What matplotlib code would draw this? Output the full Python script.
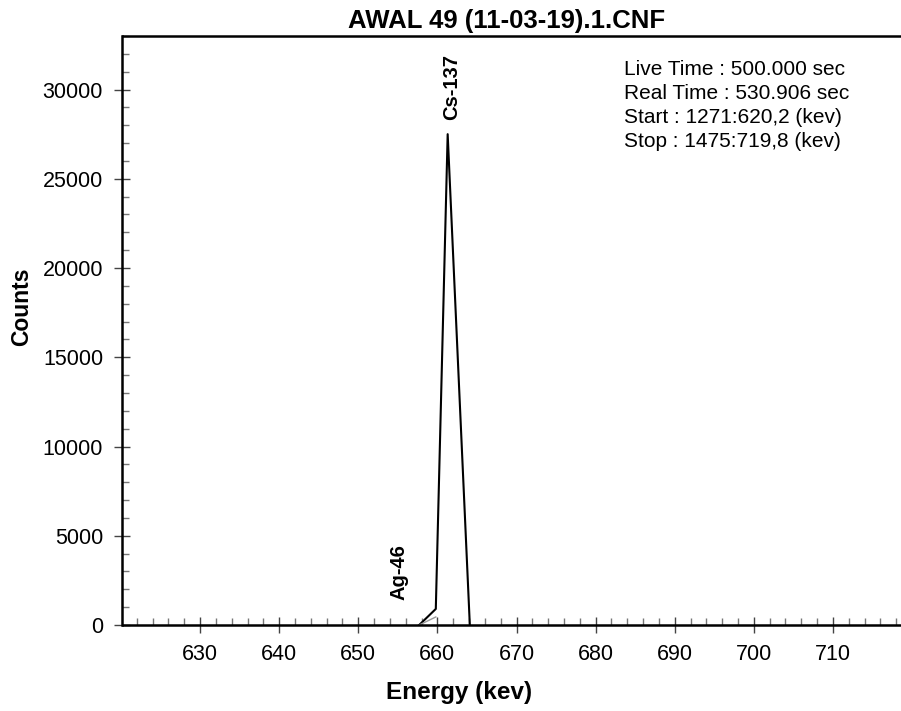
import matplotlib
matplotlib.use("Agg")
import matplotlib.pyplot as plt
from matplotlib.ticker import MultipleLocator

plt.rcParams['font.family'] = ['Liberation Sans', 'DejaVu Sans']

# spectrum around the Cs-137 line
energy = [657.7, 659.8, 661.3, 664.1]
counts = [0, 900, 27500, 0]
# fitted shoulder (grey)
fit_energy = [657.7, 659.8]
fit_counts = [0, 450]

peak_labels = ['Cs-137', 'Ag-46']
peak_pos = [661.8, 655.2]
peak_y = [28300, 1400]

info = ["Live Time : 500.000 sec",
        "Real Time : 530.906 sec",
        "Start : 1271:620,2 (kev)",
        "Stop : 1475:719,8 (kev)"]

fig = plt.figure(figsize=(9.01, 7.11), dpi=100)
ax = fig.add_axes([122.5 / 901, 86 / 711, 788 / 901, 589 / 711])

ax.plot(energy, counts, color='black', lw=1.5)
ax.plot(fit_energy, fit_counts, color='#999999', lw=1.0)

for lab, xp, yp in zip(peak_labels, peak_pos, peak_y):
    ax.text(xp, yp, lab, rotation=90, ha='center', va='bottom',
            fontsize=14.5, fontweight='bold')

ax.text(624 / 901, 1 - 60 / 711, "\n".join(info), transform=fig.transFigure,
        ha='left', va='top', fontsize=15, linespacing=1.33)

ax.set_xlim(620.2, 719.8)
ax.set_ylim(0, 33000)
ax.xaxis.set_major_locator(MultipleLocator(10))
ax.xaxis.set_minor_locator(MultipleLocator(2))
ax.yaxis.set_major_locator(MultipleLocator(5000))
ax.yaxis.set_minor_locator(MultipleLocator(1000))
ax.tick_params(which='major', direction='inout', length=12, width=1.0,
               color='#444444', labelsize=15.5, pad=8)
ax.tick_params(which='minor', direction='in', length=5, width=1.0, color='#777777')
ax.spines['right'].set_visible(False)
for s in ['left', 'bottom', 'top']:
    ax.spines[s].set_linewidth(1.8)

ax.set_title("AWAL 49 (11-03-19).1.CNF", fontsize=18.5, fontweight='bold',
             x=0.487, pad=6)
ax.set_xlabel("Energy (kev)", fontsize=17.5, fontweight='bold')
ax.xaxis.set_label_coords(0.427, -0.095)
ax.set_ylabel("Counts", fontsize=16.5, fontweight='bold')
ax.yaxis.set_label_coords(-0.114, 0.54)

fig.savefig("out.png", dpi=100)
